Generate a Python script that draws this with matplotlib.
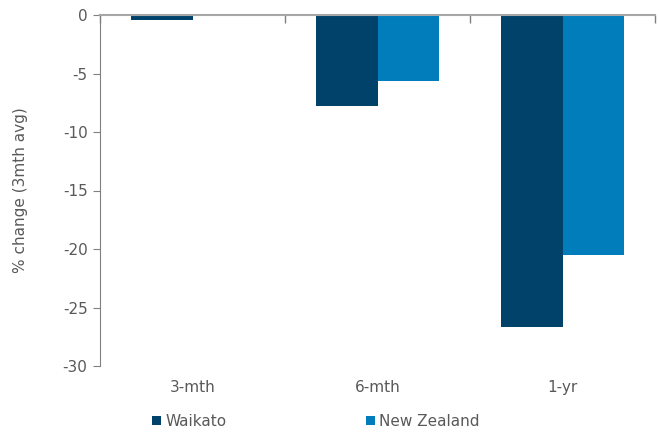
import numpy as np
import matplotlib.pyplot as plt

# donnees
periodes = ['3-mth', '6-mth', '1-yr']
waikato = [-0.4, -7.8, -26.7]
nz = [-0.1, -5.6, -20.5]

c_waikato = '#00426A'
c_nz = '#007DBA'
gris = '#595959'

plt.rcParams['font.family'] = ['DejaVu Sans']
plt.rcParams['axes.unicode_minus'] = False

fig = plt.figure(figsize=(6.59, 4.33), dpi=100)
ax = fig.add_axes([100/659, 1 - 366/433, 555/659, 351/433])

x = np.arange(len(periodes))
w = 0.335
ax.bar(x - w/2, waikato, w, color=c_waikato, label='Waikato')
ax.bar(x + w/2, nz, w, color=c_nz, label='New Zealand')

ax.set_xlim(-0.5, 2.5)
ax.set_ylim(-30, 0)
ax.set_yticks(np.arange(-30, 1, 5))

# labels des categories en bas, ticks de separation sur la ligne zero
ax.set_xticks(x)
ax.set_xticklabels(periodes)
ax.tick_params(axis='x', length=0, pad=10, labelsize=11, labelcolor=gris)
ax.set_xticks([-0.5, 0.5, 1.5, 2.5], minor=True)
ax.tick_params(axis='x', which='minor', top=True, bottom=False, direction='in',
               length=6, color='#808080', width=1)

ax.tick_params(axis='y', direction='out', length=5, color='#808080',
               labelsize=11, labelcolor=gris, pad=4)

ax.spines['bottom'].set_visible(False)
ax.spines['right'].set_visible(False)
ax.spines['top'].set_color('#A6A6A6')
ax.spines['top'].set_linewidth(1.5)
ax.spines['left'].set_color('#808080')

ax.set_ylabel('% change (3mth avg)', fontsize=11, color=gris, labelpad=25)

fig.legend(loc='lower left', bbox_to_anchor=(138/659, -0.022), ncol=2, frameon=False,
           fontsize=11, labelcolor=gris, handlelength=0.6, handleheight=0.6,
           handletextpad=0.3, columnspacing=9.1)

fig.savefig('out.png', dpi=100)
